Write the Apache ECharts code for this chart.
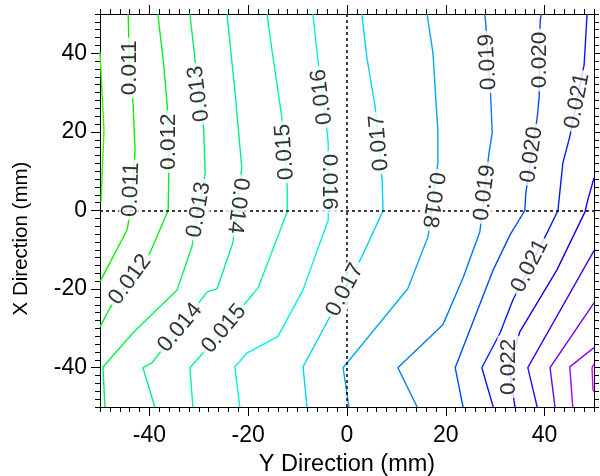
<!DOCTYPE html>
<html><head><meta charset="utf-8">
<script src="https://cdn.jsdelivr.net/npm/echarts@6/dist/echarts.min.js"></script>
<style>html,body{margin:0;padding:0;background:#fff}#c{width:600px;height:476px}</style>
</head><body><div id="c"></div>
<script>
// Contour levels and polylines ([Y direction mm, X direction mm])
const contourLevels = [0.010, 0.011, 0.012, 0.013, 0.014, 0.015, 0.016, 0.017, 0.018, 0.019, 0.020, 0.021, 0.022, 0.023, 0.024, 0.025, 0.026];
const c010 = [[-50,40.4],[-49.2,20.5],[-49.8,2.2]];
const c011 = [[-44.3,50],[-44.1,39.6],[-43.3,26.9],[-42.9,15.4],[-43.5,2.7],[-44.5,-4.9],[-50,-18.1]];
const c012 = [[-38.3,50],[-37.2,38.3],[-36.4,26.9],[-36.0,15.4],[-36.2,0],[-39.9,-10.8],[-48.0,-24.8],[-50,-29.6]];
const c013 = [[-31.8,50],[-30.8,38.9],[-29.0,20.5],[-28.7,9.6],[-31.4,-9.2],[-34.4,-20.2],[-43.3,-31.1],[-49.4,-39.8],[-49.0,-50]];
const c014 = [[-24.3,50],[-22.7,30.7],[-21.3,10.9],[-23.1,-8.2],[-26.3,-19.9],[-28.3,-20.7],[-39.5,-38.8],[-41.3,-40],[-38.9,-50]];
const c015 = [[-16.2,50],[-15.2,40.9],[-13.2,23.8],[-12.1,5.8],[-12.1,-0.3],[-18.0,-19.7],[-20.0,-22.7],[-29.8,-37.2],[-31.8,-40],[-31.2,-50]];
const c016 = [[-6.9,50],[-5.9,38.3],[-4.0,19.8],[-3.8,17.2],[-3.8,-2.4],[-8.9,-20.2],[-14.0,-32.1],[-20.2,-36.2],[-22.7,-39.8],[-21.7,-50]];
const c017 = [[3.0,50],[4.0,39.1],[5.7,26.4],[7.1,7.8],[7.3,0],[7.1,-0.6],[3.0,-11.8],[-4.0,-28.3],[-8.9,-39.8],[-8.1,-50]];
const c018 = [[16.2,50],[17.4,40.1],[18.4,20.0],[18.4,12.1],[16.4,-6.7],[12.3,-19.9],[-0.8,-40],[0.4,-50]];
const c019 = [[27.9,50],[28.1,47.3],[29.1,28.7],[29.4,19.8],[28.7,14.2],[26.9,-5.4],[23.5,-17.1],[19.4,-29.1],[10.3,-40],[14.2,-50]];
const c020 = [[39.3,50],[39.1,48.0],[38.9,28.9],[38.5,23.6],[36.2,4.5],[36.0,0],[33.0,-6.2],[29.6,-15.1],[21.9,-40],[23.5,-50]];
const c021 = [[48.6,50],[48.0,37.1],[45.1,18.8],[43.7,12.1],[42.7,0],[40.5,-5.7],[33.6,-22.7],[31.0,-31.1],[27.3,-40],[29.6,-50]];
const c022 = [[50,8.3],[48.6,2.0],[48.2,-0.3],[42.5,-15.1],[35.0,-30.8],[32.8,-39.8],[34.0,-50]];
const c023 = [[50,-10.2],[36.6,-40],[38.5,-50]];
const c024 = [[50,-23.5],[41.1,-40],[42.1,-50]];
const c025 = [[50,-34.9],[45.1,-39.8],[45.7,-50]];
const c026 = [[50,-39],[49.6,-40],[49.8,-45.6],[50,-46.1]];
const contourLines = [c010,c011,c012,c013,c014,c015,c016,c017,c018,c019,c020,c021,c022,c023,c024,c025,c026];

// Contour labels
const labelText = ['0.011','0.011','0.012','0.012','0.013','0.013','0.014','0.014','0.015','0.015','0.016','0.016','0.017','0.017','0.018','0.019','0.019','0.020','0.020','0.021','0.021','0.022'];
const labelX = [-43.9,-43.7,-36.0,-43.9,-30.0,-30.0,-22.1,-33.8,-12.6,-24.9,-5.1,-3.6,6.5,-0.4,17.4,28.5,27.9,39.1,37.4,46.6,37.0,32.8];
const labelY = [36.3,5.3,17.5,-17.6,29.7,0.2,1.2,-29.8,14.9,-30.1,28.9,7.3,17.2,-20.2,2.7,37.8,4.5,38.3,14.2,27.9,-14.1,-39.8];
const labelAngle = [90,88,90,54,97,80,-97,50,94,50,97,-90,95,62,-98,93,83,90,82,79,63,90];

const xTickValues = [-40,-20,0,20,40];
const yTickValues = [-40,-20,0,20,40];
const xName = 'Y Direction (mm)';
const yName = 'X Direction (mm)';

function hsv(h, s, v) {
  const f = (n) => { const k = (n + h / 60) % 6; return v - v * s * Math.max(Math.min(k, 4 - k, 1), 0); };
  const c = (x) => Math.round(x * 255).toString(16).padStart(2, '0');
  return '#' + c(f(5)) + c(f(3)) + c(f(1));
}
function levelColor(lvl) {
  const k = Math.round((lvl - 0.011) / 0.001);
  return hsv(118 + 11.5 * k, 1, 0.95);
}

const FONT = "'Liberation Sans', Arial, sans-serif";
function majorAxis(position, showLabels, ticks, extra) {
  return Object.assign({
    type: 'value', position: position, min: -50, max: 50,
    axisLine: { show: true, onZero: false, lineStyle: { color: '#000', width: 1 } },
    axisTick: { show: true, inside: false, length: 9, customValues: ticks, lineStyle: { color: '#000', width: 1 } },
    axisLabel: { show: showLabels, customValues: ticks, color: '#000', fontSize: 23, fontFamily: FONT },
    splitLine: { show: false }
  }, extra || {});
}
function minorAxis(position) {
  return {
    type: 'value', position: position, min: -50, max: 50, interval: 2,
    axisLine: { show: false, onZero: false },
    axisTick: { show: true, inside: false, length: 5, lineStyle: { color: '#000', width: 1 } },
    axisLabel: { show: false }, splitLine: { show: false }
  };
}

const series = contourLines.map((pts, i) => ({
  type: 'line', xAxisIndex: 0, yAxisIndex: 0, data: pts, showSymbol: false, symbol: 'none',
  lineStyle: { color: levelColor(contourLevels[i]), width: 1.4 }, z: 2, silent: true, clip: true
}));
series.push({
  type: 'line', xAxisIndex: 0, yAxisIndex: 0, data: [], z: 3, silent: true,
  markLine: { silent: true, symbol: 'none', animation: false, label: { show: false },
    lineStyle: { color: '#000', type: [3, 3], width: 1.5 },
    data: [{ xAxis: 0 }, { yAxis: 0 }] }
});
series.push({
  type: 'scatter', xAxisIndex: 0, yAxisIndex: 0, z: 5, silent: true, symbolSize: 1,
  itemStyle: { color: 'rgba(0,0,0,0)' },
  label: { show: true, position: 'inside', formatter: (p) => p.value[2], color: '#000', fontSize: 22.5,
    fontFamily: FONT, backgroundColor: '#fff', padding: [0, 3] },
  data: labelText.map((t, i) => ({ value: [labelX[i], labelY[i], t], label: { rotate: labelAngle[i] } }))
});

const chart = echarts.init(document.getElementById('c'), null, { renderer: 'canvas' });
chart.setOption({
  animation: false,
  backgroundColor: '#fff',
  grid: { left: 100, right: 6, top: 14, bottom: 69, containLabel: false, outerBoundsMode: 'none' },
  xAxis: [
    majorAxis('bottom', true, xTickValues, { name: xName, nameLocation: 'middle', nameGap: 46,
      nameTextStyle: { color: '#000', fontSize: 23.5, fontFamily: FONT },
      axisLabel: { show: true, customValues: xTickValues, color: '#000', fontSize: 23, fontFamily: FONT, margin: 17 } }),
    minorAxis('bottom'),
    majorAxis('top', false, xTickValues),
    minorAxis('top')
  ],
  yAxis: [
    majorAxis('left', true, yTickValues, { name: yName, nameLocation: 'middle', nameGap: 68,
      nameTextStyle: { color: '#000', fontSize: 20.5, fontFamily: FONT, padding: [0, 56, 0, 0] },
      axisLabel: { show: true, customValues: yTickValues, color: '#000', fontSize: 23, fontFamily: FONT, margin: 13 } }),
    minorAxis('left'),
    majorAxis('right', false, yTickValues),
    minorAxis('right')
  ],
  series: series
});
</script></body></html>
